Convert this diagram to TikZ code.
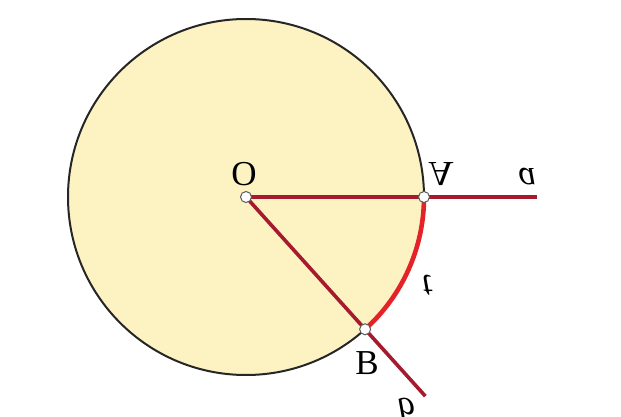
\documentclass[tikz,border=0pt]{standalone}
\usepackage{fontspec}
\setmainfont{Liberation Serif}
\usetikzlibrary{calc}
\definecolor{discfill}{HTML}{FDF3C2}
\definecolor{rayred}{HTML}{A51A2C}
\definecolor{arcred}{HTML}{E52228}
\definecolor{ptgray}{HTML}{5A5A5A}
\tikzset{
  ray/.style={draw=rayred, line width=3.6pt},
  arcline/.style={draw=arcred, line width=4.6pt},
  pt/.style={circle, draw=ptgray, fill=white, line width=1pt, inner sep=0pt, minimum size=11pt},
  lbl/.style={font=\fontsize{35}{35}\selectfont, inner sep=0pt},
}
\newcommand{\flipy}[1]{\scalebox{1}[-1]{#1}}
\begin{document}
\begin{tikzpicture}[x=1pt,y=-1pt]
\useasboundingbox (0,0) rectangle (621,417);
\coordinate (O) at (246,197);
\filldraw[fill=discfill, draw=black!85, line width=2pt] (O) circle[radius=178];
\coordinate (A) at ($(O)+(178,0)$);
\coordinate (B) at ($(O)+(48:178)$);
\coordinate (aend) at (537,197);
\coordinate (bend) at ($(O)+(48:268)$);
\draw[ray] (O) -- (aend);
\draw[ray] (O) -- (bend);
\draw[arcline] (A) arc[start angle=0, end angle=48, radius=178];
\node[pt] (Op) at (O) {};
\node[pt] (Ap) at (A) {};
\node[pt] (Bp) at (B) {};
\node[lbl] (lO) at (244,174) {O};
\node[lbl] (lA) at (441,174) {\flipy{A}};
\node[lbl] (la) at (527,177) {\flipy{\itshape a}};
\node[lbl] (lB) at (367,363) {B};
\node[lbl] (lb) at (406,410) {\flipy{\itshape b}};
\node[lbl] (lt) at (427,285) {\flipy{\itshape t}};
\end{tikzpicture}
\end{document}
